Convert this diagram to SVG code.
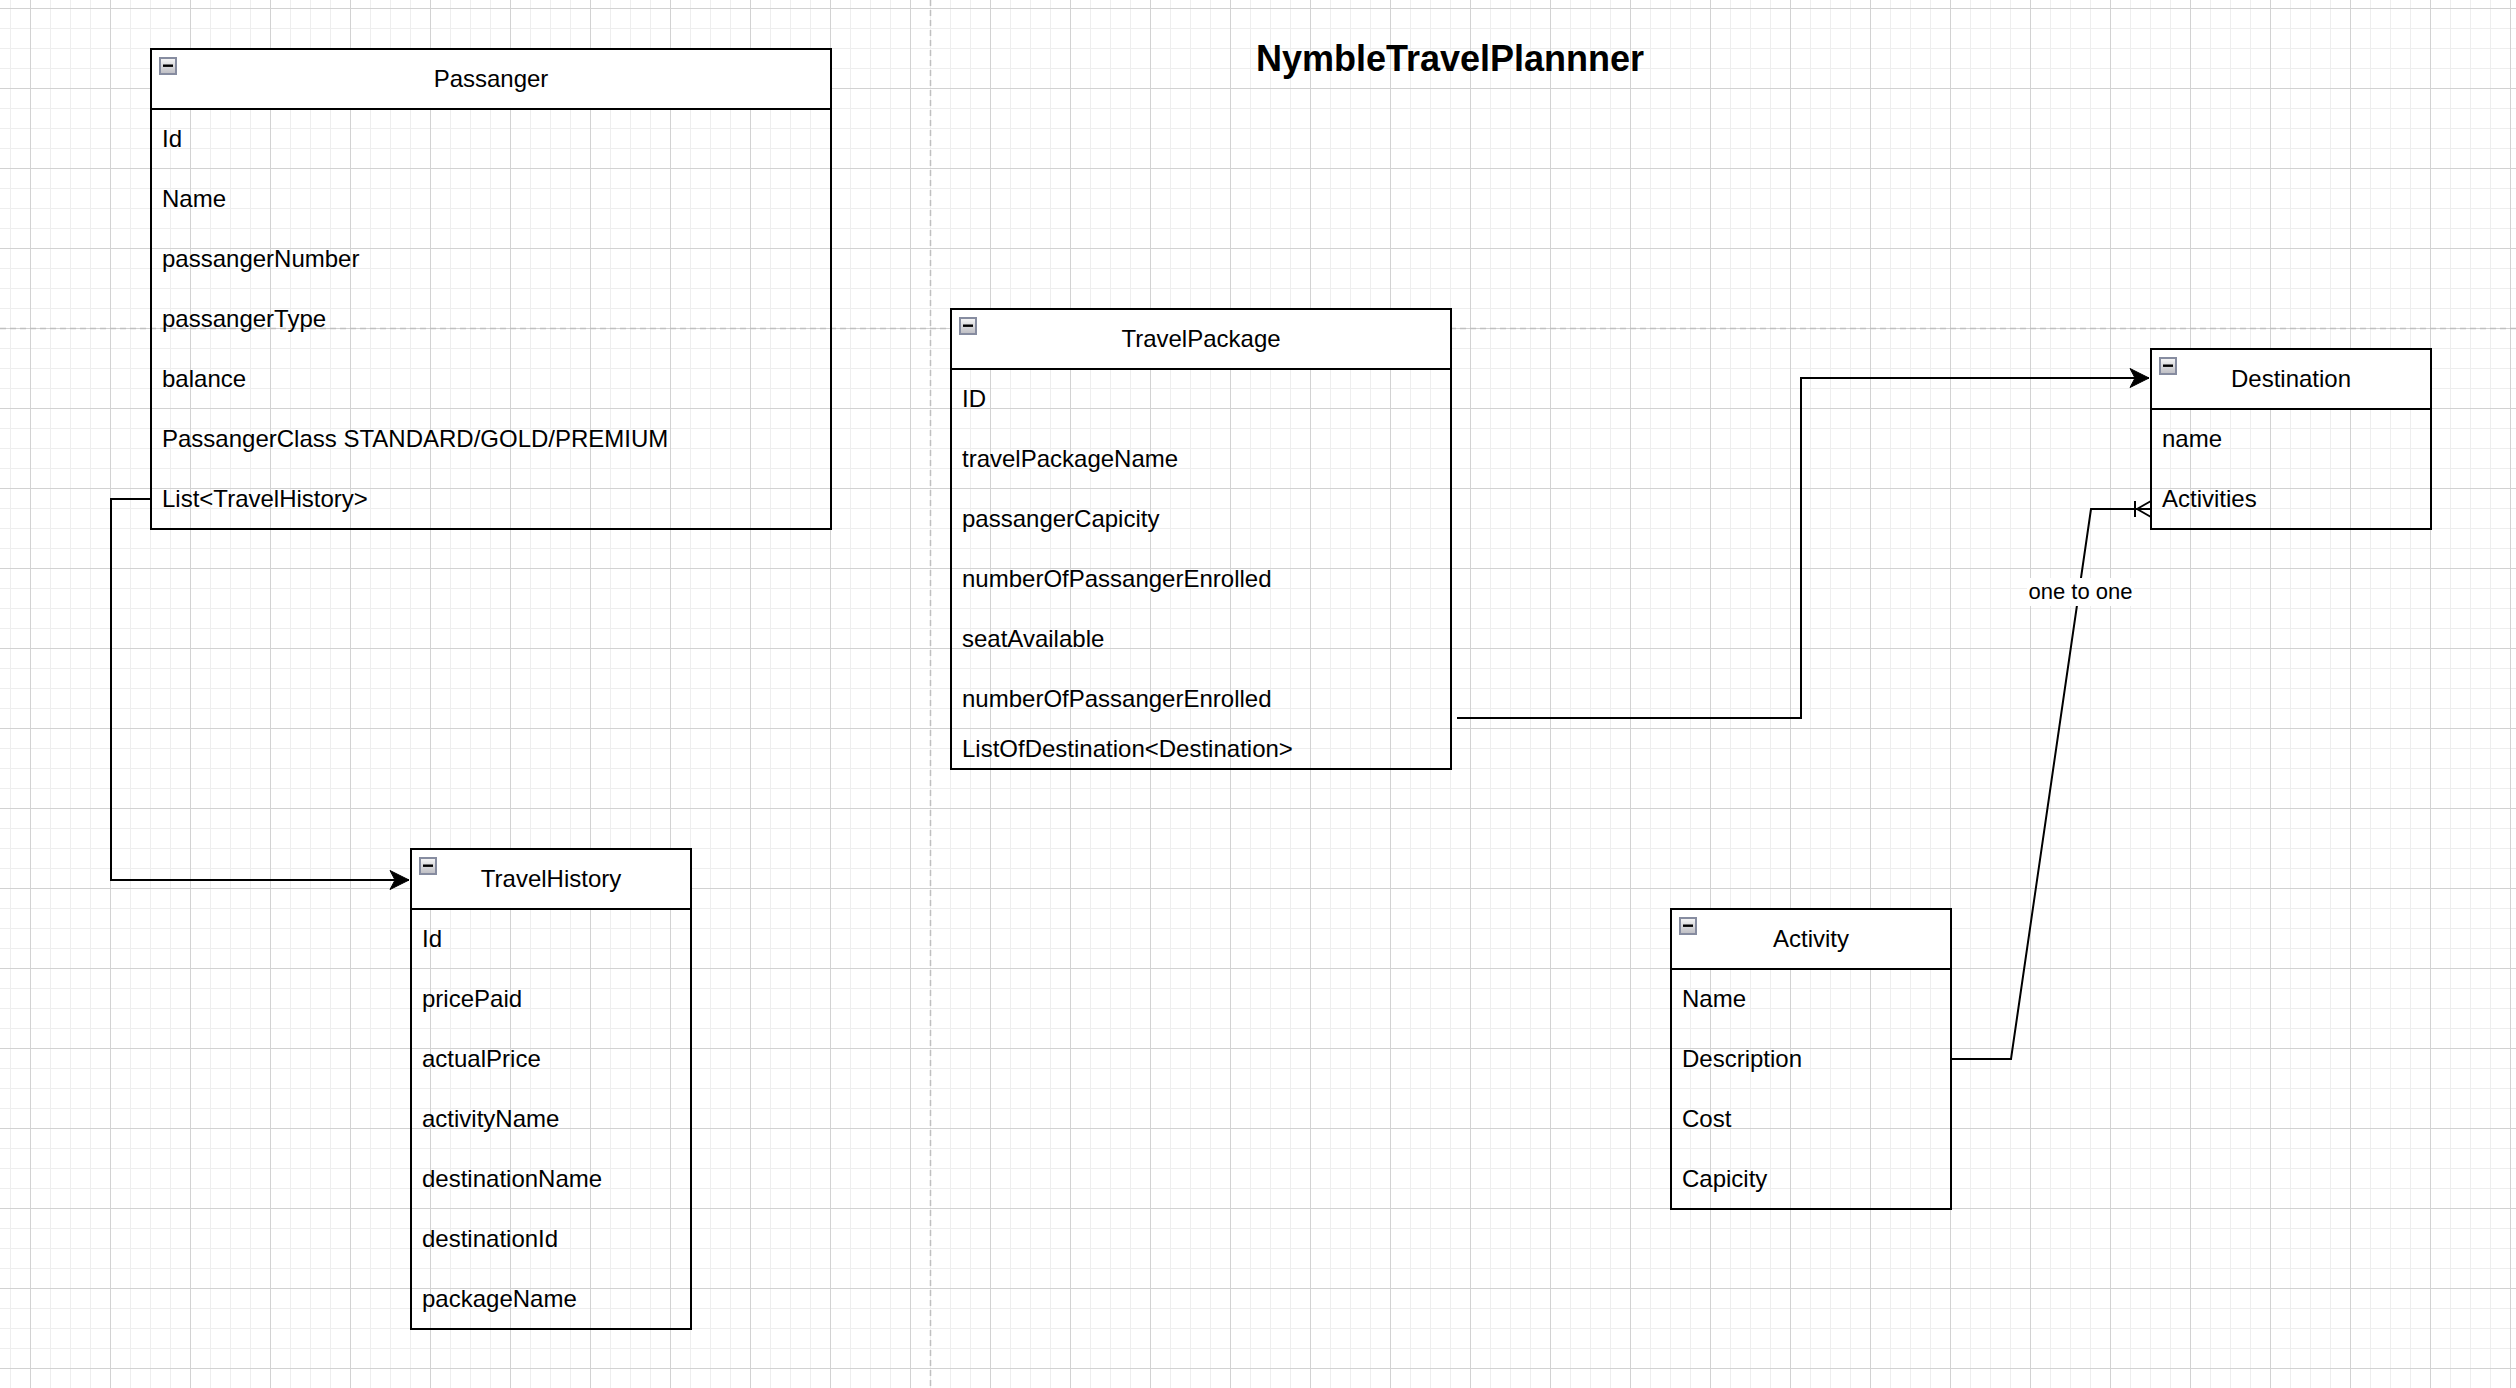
<svg xmlns="http://www.w3.org/2000/svg" width="2516" height="1388" viewBox="0 0 2516 1388">
<style>
text{font-family:"Liberation Sans",Arial,Helvetica,sans-serif;fill:#000}
.row{font-size:24px}
.hdr{font-size:24px;text-anchor:middle}
.title{font-size:36px;font-weight:bold;text-anchor:middle}
.lbl{font-size:22px;text-anchor:middle}
.head{fill:#fff;stroke:#000;stroke-width:2}
.body{fill:none;stroke:#000;stroke-width:2}
.edge{fill:none;stroke:#000;stroke-width:2}
.page{stroke:#c0c0c0;stroke-width:1.5;stroke-dasharray:6 4;fill:none}
</style>
<defs>
<pattern id="grid" patternUnits="userSpaceOnUse" x="30" y="8" width="80" height="80">
<rect width="80" height="80" fill="#fff"/>
<rect x="20" width="1" height="80" fill="#eeeeee"/>
<rect x="40" width="1" height="80" fill="#eeeeee"/>
<rect x="60" width="1" height="80" fill="#eeeeee"/>
<rect y="20" width="80" height="1" fill="#eeeeee"/>
<rect y="40" width="80" height="1" fill="#eeeeee"/>
<rect y="60" width="80" height="1" fill="#eeeeee"/>
<rect x="0" width="1" height="80" fill="#d2d2d2"/>
<rect y="0" width="80" height="1" fill="#d2d2d2"/>
</pattern>
<linearGradient id="ig" x1="0" y1="0" x2="0" y2="1">
<stop offset="0" stop-color="#f8f8f8"/>
<stop offset="1" stop-color="#bcbcc2"/>
</linearGradient>
<g id="minus">
<rect x="1" y="1" width="16" height="16" fill="url(#ig)" stroke="#868ca0" stroke-width="2"/>
<rect x="4" y="7.5" width="10" height="2.4" fill="#000"/>
</g>
<marker id="arrow" markerUnits="userSpaceOnUse" viewBox="-20 -10 22 20" refX="1" refY="0" markerWidth="22" markerHeight="20" orient="auto">
<path d="M1,0 L-18,-9.5 L-13,0 L-18,9.5 Z" fill="#000" stroke="#000" stroke-width="1"/>
</marker>
<marker id="onemany" markerUnits="userSpaceOnUse" viewBox="-20 -10 22 20" refX="0" refY="0" markerWidth="22" markerHeight="20" orient="auto">
<path d="M-14,0 L0,-8 M-14,0 L0,8 M-16,-8 L-16,8" fill="none" stroke="#000" stroke-width="2"/>
</marker>
</defs>
<rect width="2516" height="1388" fill="url(#grid)"/>
<line class="page" x1="930.5" y1="0" x2="930.5" y2="1388"/>
<line class="page" x1="0" y1="328.5" x2="2516" y2="328.5"/>

<g id="title"><text class="title" x="1450" y="71">NymbleTravelPlannner</text></g>

<g id="connectors">
<path class="edge" d="M151,499 L111,499 L111,880 L409,880" marker-end="url(#arrow)"/>
<path class="edge" d="M1457,718 L1801,718 L1801,378 L2149,378" marker-end="url(#arrow)"/>
<path class="edge" d="M1951,1059 L2011,1059 L2091,509 L2151,509" marker-end="url(#onemany)"/>
<rect x="2027" y="578" width="107" height="28" fill="#fff"/>
<text class="lbl" x="2080.5" y="598.5">one to one</text>
</g>

<g id="Passanger">
<rect class="body" x="151" y="49" width="680" height="480"/>
<rect class="head" x="151" y="49" width="680" height="60"/>
<use href="#minus" x="159" y="57"/>
<text class="hdr" x="491" y="86.5">Passanger</text>
<text class="row" x="162" y="146.5">Id</text>
<text class="row" x="162" y="206.5">Name</text>
<text class="row" x="162" y="266.5">passangerNumber</text>
<text class="row" x="162" y="326.5">passangerType</text>
<text class="row" x="162" y="386.5">balance</text>
<text class="row" x="162" y="446.5">PassangerClass STANDARD/GOLD/PREMIUM</text>
<text class="row" x="162" y="506.5">List&lt;TravelHistory&gt;</text>
</g>

<g id="TravelPackage">
<rect class="body" x="951" y="309" width="500" height="460"/>
<rect class="head" x="951" y="309" width="500" height="60"/>
<use href="#minus" x="959" y="317"/>
<text class="hdr" x="1201" y="346.5">TravelPackage</text>
<text class="row" x="962" y="406.5">ID</text>
<text class="row" x="962" y="466.5">travelPackageName</text>
<text class="row" x="962" y="526.5">passangerCapicity</text>
<text class="row" x="962" y="586.5">numberOfPassangerEnrolled</text>
<text class="row" x="962" y="646.5">seatAvailable</text>
<text class="row" x="962" y="706.5">numberOfPassangerEnrolled</text>
<text class="row" x="962" y="756.5">ListOfDestination&lt;Destination&gt;</text>
</g>

<g id="Destination">
<rect class="body" x="2151" y="349" width="280" height="180"/>
<rect class="head" x="2151" y="349" width="280" height="60"/>
<use href="#minus" x="2159" y="357"/>
<text class="hdr" x="2291" y="386.5">Destination</text>
<text class="row" x="2162" y="446.5">name</text>
<text class="row" x="2162" y="506.5">Activities</text>
</g>

<g id="TravelHistory">
<rect class="body" x="411" y="849" width="280" height="480"/>
<rect class="head" x="411" y="849" width="280" height="60"/>
<use href="#minus" x="419" y="857"/>
<text class="hdr" x="551" y="886.5">TravelHistory</text>
<text class="row" x="422" y="946.5">Id</text>
<text class="row" x="422" y="1006.5">pricePaid</text>
<text class="row" x="422" y="1066.5">actualPrice</text>
<text class="row" x="422" y="1126.5">activityName</text>
<text class="row" x="422" y="1186.5">destinationName</text>
<text class="row" x="422" y="1246.5">destinationId</text>
<text class="row" x="422" y="1306.5">packageName</text>
</g>

<g id="Activity">
<rect class="body" x="1671" y="909" width="280" height="300"/>
<rect class="head" x="1671" y="909" width="280" height="60"/>
<use href="#minus" x="1679" y="917"/>
<text class="hdr" x="1811" y="946.5">Activity</text>
<text class="row" x="1682" y="1006.5">Name</text>
<text class="row" x="1682" y="1066.5">Description</text>
<text class="row" x="1682" y="1126.5">Cost</text>
<text class="row" x="1682" y="1186.5">Capicity</text>
</g>
</svg>
